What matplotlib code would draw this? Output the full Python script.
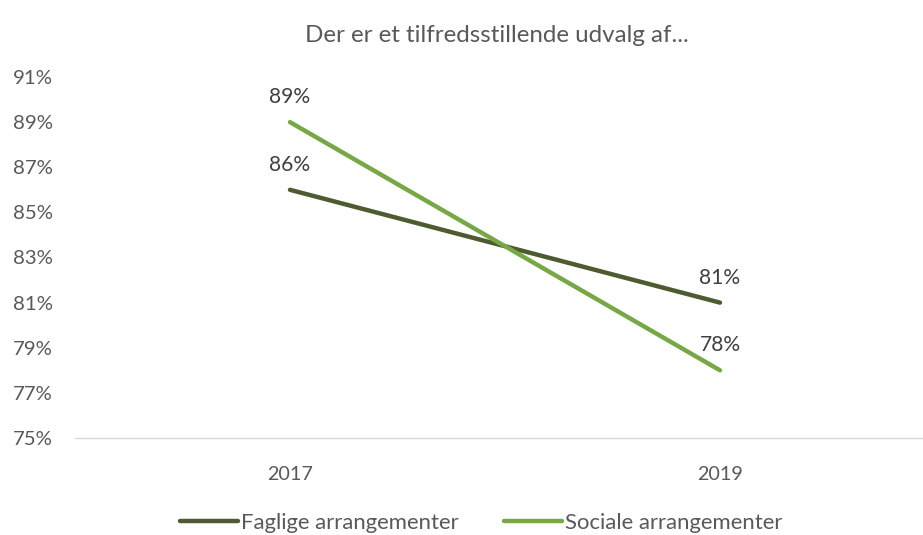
import matplotlib.pyplot as plt

years = ['2017', '2019']
faglige = [86, 81]
sociale = [89, 78]
yticks = [75, 77, 79, 81, 83, 85, 87, 89, 91]
title = 'Der er et tilfredsstillende udvalg af...'
series_names = ['Faglige arrangementer', 'Sociale arrangementer']

FAM = ['Lato', 'DejaVu Sans']
plt.rcParams['font.family'] = FAM

fig = plt.figure(figsize=(9.23, 5.35), dpi=100)
W, H = 923, 535
renderer = fig.canvas.get_renderer()


def fit_size(s, target_px):
    # font size (pt) that makes string s about target_px wide
    t = fig.text(0, 0, s, fontsize=10)
    w = t.get_window_extent(renderer).width
    t.remove()
    return 10 * target_px / w


fs_ytick = fit_size('91%', 40)
fs_xtick = fit_size('2017', 46)
fs_lab = fit_size('89%', 41)
fs_leg = fit_size(series_names[0], 218)
fs_title = fit_size(title, 688 - 305)

ax = fig.add_axes([75 / W, 1 - 438 / H, (922 - 75) / W, (438 - 77) / H])

x = list(range(len(years)))
c_dark = '#4E5B31'
c_light = '#77A746'
ax.plot(x, faglige, color=c_dark, lw=3.2, solid_capstyle='round', label=series_names[0])
ax.plot(x, sociale, color=c_light, lw=3.2, solid_capstyle='round', label=series_names[1])

for vals in (faglige, sociale):
    for xi, v in zip(x, vals):
        ax.annotate(f'{v}%', (xi, v), xytext=(0, 13.7), textcoords='offset points',
                    ha='center', va='baseline', fontsize=fs_lab, color='#404040')

ax.set_xlim(-0.5, -0.5 + (922 - 75) / 430)
ax.set_ylim(75, 91)
ax.set_yticks(yticks)
ax.set_yticklabels([f'{t}%' for t in yticks])
ax.set_xticks(x)
ax.set_xticklabels(years)
ax.tick_params(axis='both', length=0, labelcolor='#595959')
ax.tick_params(axis='y', pad=15.8, labelsize=fs_ytick)
ax.tick_params(axis='x', pad=30.2, labelsize=fs_xtick)
for lbl in ax.get_xticklabels():
    lbl.set_va('baseline')
for s in ['top', 'right', 'left']:
    ax.spines[s].set_visible(False)
ax.spines['bottom'].set_color('#D9D9D9')
ax.spines['bottom'].set_linewidth(1)

fig.text((305 + 688) / 2 / W, 1 - 42 / H, title, ha='center', va='baseline',
         fontsize=fs_title, color='#595959')

em = fs_leg * 100 / 72
fig.legend(loc='center', bbox_to_anchor=(481 / W, 1 - 523 / H), ncol=2, frameon=False,
           fontsize=fs_leg, handlelength=58 / em, handletextpad=3 / em,
           columnspacing=45 / em, labelcolor='#595959', borderpad=0)

fig.savefig('out.png', dpi=100)
